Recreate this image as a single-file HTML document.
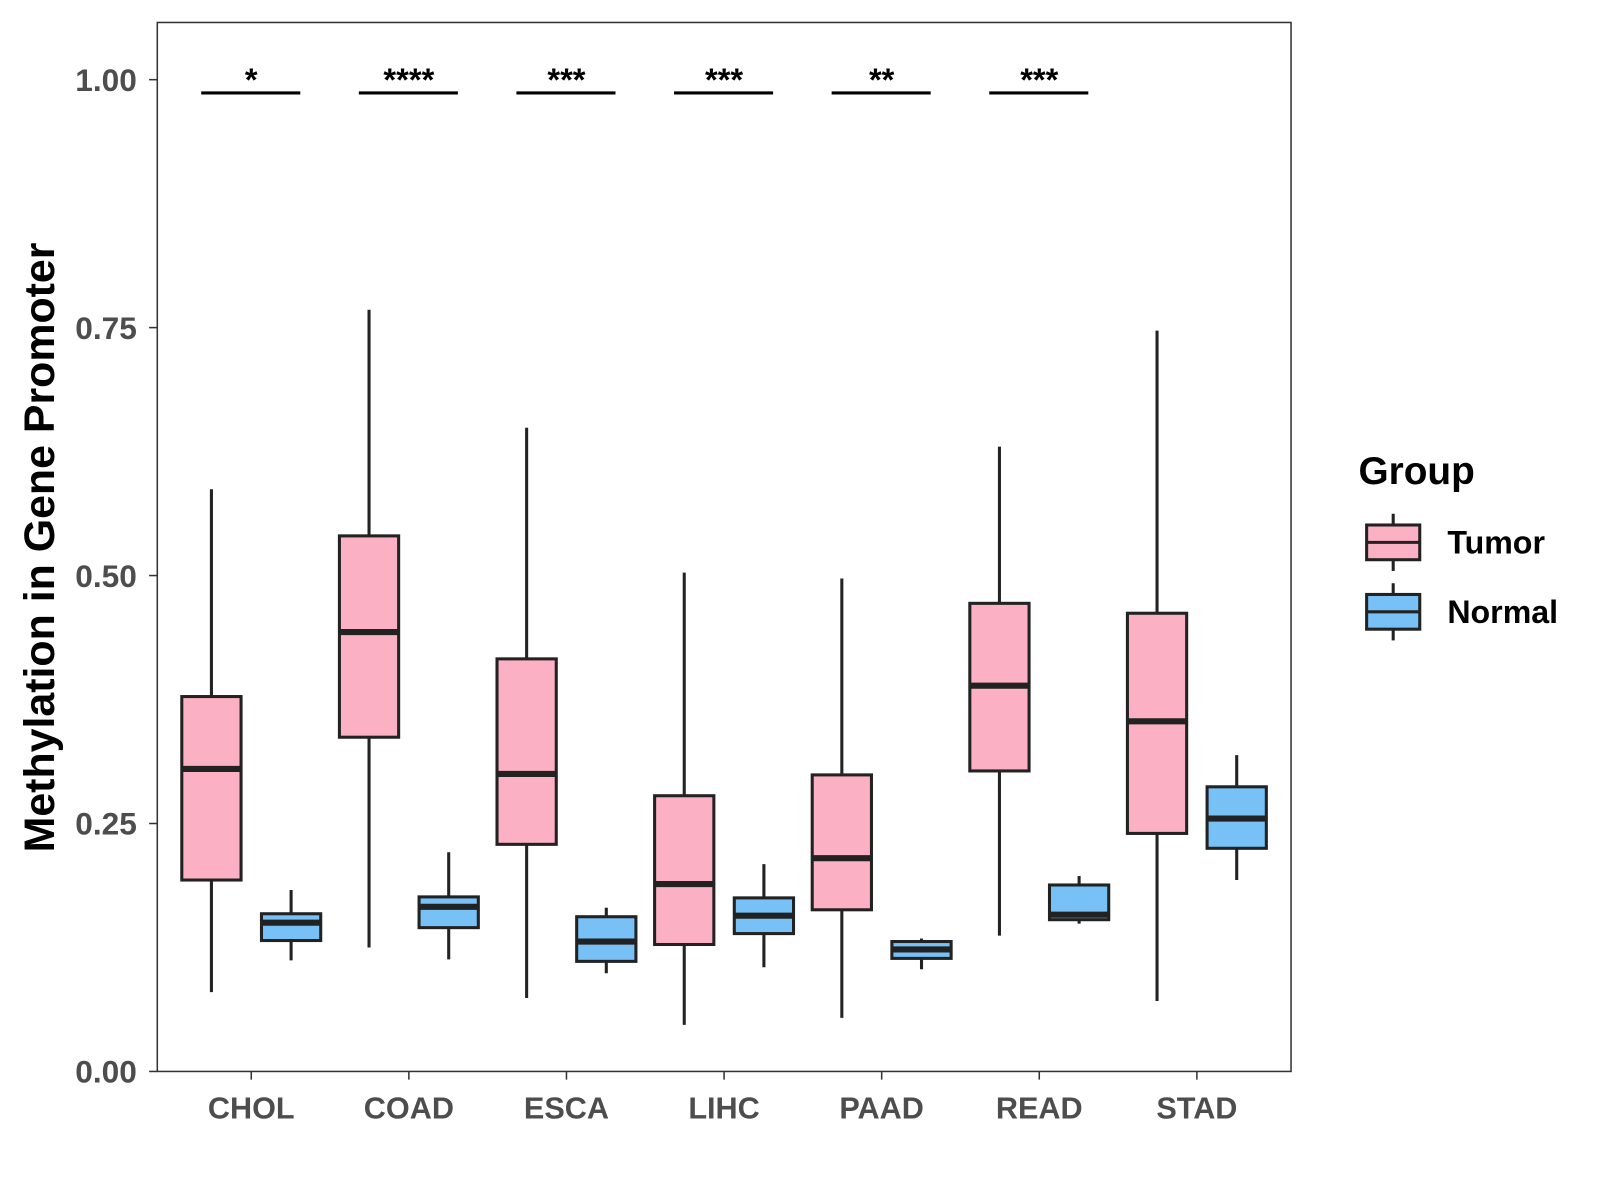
<!DOCTYPE html>
<html><head><meta charset="utf-8"><style>
html,body{margin:0;padding:0;background:#fff}
svg{display:block;font-family:"Liberation Sans",Arial,sans-serif}
</style></head><body>
<svg id="chart" width="1600" height="1200" viewBox="0 0 1600 1200">
<rect x="0" y="0" width="1600" height="1200" fill="#fff"/>
<g id="plot" transform="scale(1.0214)"></g>
</svg>
<script>
const categories=["CHOL","COAD","ESCA","LIHC","PAAD","READ","STAD"];
// [low, q1, median, q3, high]
const tumorStats=[
[0.080,0.193,0.305,0.378,0.587],
[0.125,0.337,0.443,0.540,0.768],
[0.074,0.229,0.300,0.416,0.649],
[0.047,0.128,0.189,0.278,0.503],
[0.054,0.163,0.215,0.299,0.497],
[0.137,0.303,0.389,0.472,0.630],
[0.071,0.240,0.353,0.462,0.747]];
const normalStats=[
[0.112,0.132,0.150,0.159,0.183],
[0.113,0.145,0.166,0.176,0.221],
[0.099,0.111,0.131,0.156,0.165],
[0.105,0.139,0.157,0.175,0.209],
[0.103,0.114,0.123,0.131,0.134],
[0.149,0.153,0.158,0.188,0.197],
[0.193,0.225,0.255,0.287,0.319]];
const signif=["*","****","***","***","**","***",""];
const yTicks=[0,0.25,0.5,0.75,1.0];
const yTickLabels=["0.00","0.25","0.50","0.75","1.00"];

const NS="http://www.w3.org/2000/svg";
const g=document.getElementById('plot');
const P={l:154,r:1264,t:22,b:1049};
const yS=v=>1049-v*971;
const xS=i=>246+i*154.3;
function el(t,a,txt){const e=document.createElementNS(NS,t);for(const k in a)e.setAttribute(k,a[k]);if(txt!==undefined)e.textContent=txt;g.appendChild(e);return e;}

let f=el('rect',{x:P.l,y:P.t,width:P.r-P.l,height:P.b-P.t,fill:'none',stroke:'#333','stroke-width':1.5});


yTicks.forEach((v,i)=>{
 let y=yS(v);
 let t=el('line',{x1:P.l-8,x2:P.l,y1:y,y2:y,stroke:'#333','stroke-width':1.5});
 
 let l=el('text',{x:P.l-20,y:y+11,'text-anchor':'end','font-size':31,'font-weight':'bold',fill:'#4d4d4d'},yTickLabels[i]);
 
});
categories.forEach((c,i)=>{
 let x=xS(i);
 let t=el('line',{x1:x,x2:x,y1:P.b,y2:P.b+8,stroke:'#333','stroke-width':1.5});
 
 let l=el('text',{x:x,y:P.b+46,'text-anchor':'middle','font-size':30,'font-weight':'bold',fill:'#4d4d4d'},c);
 
});
function box(cx,s,fill,name){
 const w=58;
 let wh=el('line',{x1:cx,x2:cx,y1:yS(s[4]),y2:yS(s[0]),stroke:'#222','stroke-width':3});
 
 let b=el('rect',{x:cx-w/2,y:yS(s[3]),width:w,height:yS(s[1])-yS(s[3]),fill:fill,stroke:'#222','stroke-width':3});
 
 let m=el('line',{x1:cx-w/2,x2:cx+w/2,y1:yS(s[2]),y2:yS(s[2]),stroke:'#222','stroke-width':6});
 
}
categories.forEach((c,i)=>{
 box(xS(i)-39,tumorStats[i],'#FCB0C3','tumor-'+c.toLowerCase());
 box(xS(i)+39,normalStats[i],'#77C1F6','normal-'+c.toLowerCase());
 if(signif[i]){
  let ln=el('line',{x1:xS(i)-49,x2:xS(i)+48,y1:91,y2:91,stroke:'#000','stroke-width':3});
  
  let st=el('text',{x:xS(i),y:89,'text-anchor':'middle','font-size':32,'font-weight':'bold',fill:'#000'},signif[i]);
  
 }
});
let yt=el('text',{x:0,y:0,transform:'translate(53,536) rotate(-90)','text-anchor':'middle','font-size':42,'font-weight':'bold',fill:'#000'},'Methylation in Gene Promoter');


let lt=el('text',{x:1330,y:474,'font-size':38,'font-weight':'bold',fill:'#000'},'Group');

[['Tumor','#FCB0C3',531],['Normal','#77C1F6',599]].forEach(([n,c,cy])=>{
 let w=el('line',{x1:1364,x2:1364,y1:cy-28,y2:cy+28,stroke:'#222','stroke-width':3});
 
 let r=el('rect',{x:1338,y:cy-17,width:52,height:34,fill:c,stroke:'#222','stroke-width':3});
 
 let m=el('line',{x1:1338,x2:1390,y1:cy,y2:cy,stroke:'#222','stroke-width':3});
 
 let t=el('text',{x:1417,y:cy+11,'font-size':31.5,'font-weight':'bold',fill:'#000'},n);
 
});
</script>
</body></html>
